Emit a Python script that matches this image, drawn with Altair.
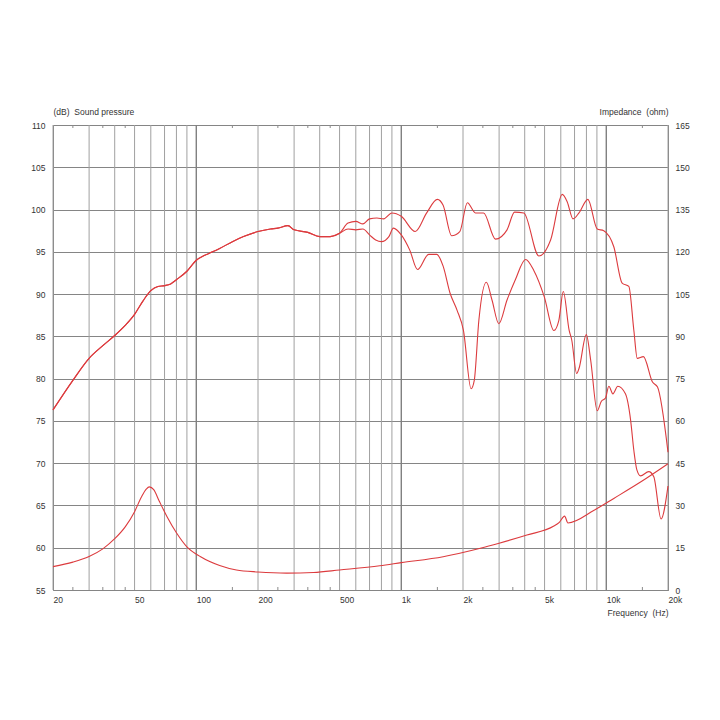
import altair as alt
import pandas as pd

# ---- data ----
# shared low-frequency part of both SPL curves (Hz, dB)
low_f = [20, 25, 30, 35, 40, 45, 50, 55, 60, 65, 70, 75, 80, 90, 100, 110, 120, 130,
         150, 170, 200, 230, 250, 280, 300, 350, 400, 450, 500]
low_db = [76.3, 79.8, 82.4, 83.9, 85.1, 86.3, 87.6, 89.2, 90.4, 90.9, 91.0, 91.2, 91.7,
          92.7, 94.0, 94.6, 95.0, 95.4, 96.2, 96.8, 97.4, 97.7, 97.8, 98.1, 97.6, 97.3,
          96.8, 96.8, 97.2]

# on-axis SPL above 500 Hz
on_f = [550, 600, 650, 700, 760, 820, 900, 1000, 1170, 1330, 1500, 1600, 1760, 1930,
        2100, 2300, 2520, 2880, 3280, 3570, 3960, 4690, 5350, 6100, 6450, 6880, 7360,
        8130, 9030, 9720, 10880, 11950, 12880, 13630, 14160, 15170, 16800, 17780, 20000]
on_db = [98.4, 98.6, 98.3, 98.9, 99.0, 98.9, 99.6, 99.2, 97.4, 99.6, 101.2, 100.5, 96.9,
         97.4, 100.8, 99.6, 99.6, 96.5, 97.6, 99.7, 99.6, 94.5, 96.4, 101.8, 100.9, 98.9,
         99.6, 101.2, 97.7, 97.5, 95.6, 91.3, 90.9, 85.7, 82.4, 82.6, 79.6, 79.0, 71.3]

# off-axis SPL above 500 Hz
off_f = [550, 600, 650, 700, 750, 800, 870, 915, 1000, 1100, 1200, 1360, 1490, 1600,
         1730, 1870, 2010, 2190, 2270, 2390, 2600, 2770, 2990, 3280, 3600, 4040, 4430,
         4980, 5550, 5870, 6170, 6590, 6780, 7170, 7360, 7990, 8390, 9030, 9450, 9910,
         10290, 10770, 11380, 12400, 13140, 13630, 14100, 14690, 16110, 17050, 18500, 20000]
off_db = [97.7, 97.6, 97.7, 97.0, 96.4, 96.2, 96.8, 97.8, 97.0, 95.2, 92.9, 94.7, 94.7,
          93.3, 90.1, 88.1, 85.7, 78.8, 79.8, 86.9, 91.4, 89.3, 86.5, 89.3, 91.7, 94.1,
          92.8, 89.7, 85.7, 86.9, 90.3, 85.7, 84.6, 80.6, 81.2, 85.2, 82.2, 76.2, 77.3,
          77.7, 79.1, 78.2, 79.1, 78.2, 75.1, 71.5, 69.2, 68.5, 69.0, 68.4, 63.4, 67.3]

# impedance (Hz, ohm)
imp_f = [20, 25, 30, 35, 40, 45, 50, 54, 57, 59, 62, 66, 72, 80, 90, 105, 130, 157, 200,
         276, 373, 500, 785, 1000, 1600, 2430, 3000, 4100, 5550, 5900, 6260, 6500, 8720,
         10880, 14690, 20000]
imp_ohm = [8.3, 9.9, 11.9, 14.6, 18.2, 22.4, 27.8, 33.0, 35.8, 36.6, 35.6, 31.5, 26.0,
           20.3, 15.3, 11.8, 8.7, 7.1, 6.4, 6.0, 6.2, 7.1, 8.6, 9.7, 11.8, 14.8, 16.6,
           19.5, 22.7, 24.0, 26.2, 23.8, 28.3, 32.5, 38.3, 44.8]

# axis / grid positions
x_label_vals = [20, 50, 100, 200, 500, 1000, 2000, 5000, 10000, 20000]
grid_f = [20, 30, 40, 50, 60, 70, 80, 90, 200, 300, 400, 500, 600, 700, 800, 900,
          2000, 3000, 4000, 5000, 6000, 7000, 8000, 9000, 20000]
decade_f = [100, 1000, 10000]
minor_f = [25, 35, 45, 150, 250, 350, 450, 1500, 2500, 3500, 4500, 15000]
db_ticks = list(range(55, 111, 5))
ohm_ticks = list(range(0, 166, 15))

RED = "#dc3b3e"
FONT = "Liberation Sans"
W, H = 615, 465

spl_df = pd.concat([
    pd.DataFrame({"f": low_f + on_f, "db": low_db + on_db, "series": "on"}),
    pd.DataFrame({"f": low_f + off_f, "db": low_db + off_db, "series": "off"}),
])
imp_df = pd.DataFrame({"f": imp_f, "ohm": imp_ohm})

x_scale = alt.Scale(type="log", domain=[20, 20000], nice=False)

x_axis = alt.Axis(
    values=x_label_vals,
    labelExpr="datum.value >= 1000 ? (datum.value / 1000) + 'k' : '' + datum.value",
    labelAlign="left", labelBaseline="top", labelPadding=5, ticks=False, grid=False,
    domain=False, labelFlush=False, labelOverlap=False,
    title="Frequency\u00a0 (Hz)", titleAlign="right", titleX=W, titleY=22,
    titleBaseline="middle", titleAnchor="end",
)
X = alt.X("f:Q", scale=x_scale, axis=x_axis)

grid = alt.Chart(pd.DataFrame({"f": grid_f})).mark_rule(
    color="#a0a0a0", strokeWidth=1
).encode(x=X)

decade = alt.Chart(pd.DataFrame({"f": decade_f})).mark_rule(
    color="#808080", strokeWidth=1.4
).encode(x=X)

minor_df = pd.DataFrame({"f": minor_f})
top_ticks = alt.Chart(minor_df).mark_rule(color="#8a8a8a").encode(
    x=X, y=alt.value(0), y2=alt.value(3))
bot_ticks = alt.Chart(minor_df).mark_rule(color="#8a8a8a").encode(
    x=X, y=alt.value(H - 3), y2=alt.value(H))

left_axis = alt.Axis(
    values=db_ticks, grid=True, gridColor="#858585", gridWidth=1, ticks=False,
    domain=False, labelPadding=8,
    title="(dB)\u00a0 Sound pressure", titleAngle=0, titleAlign="left", titleX=0,
    titleY=-14, titleBaseline="middle",
)
right_axis = alt.Axis(
    orient="right", values=ohm_ticks, grid=False, ticks=False, domain=False,
    labelPadding=7,
    title="Impedance\u00a0 (ohm)", titleAngle=0, titleAlign="right", titleX=0,
    titleY=-14, titleBaseline="middle",
)

spl = alt.Chart(spl_df).mark_line(color=RED, strokeWidth=1.1, interpolate="monotone").encode(
    x=X,
    y=alt.Y("db:Q", scale=alt.Scale(domain=[55, 110], nice=False, zero=False), axis=left_axis),
    detail="series:N",
)

imp = alt.Chart(imp_df).mark_line(color=RED, strokeWidth=1.1, interpolate="monotone").encode(
    x=X,
    y=alt.Y("ohm:Q", scale=alt.Scale(domain=[0, 165], nice=False, zero=True), axis=right_axis),
)

chart = alt.layer(grid, decade, top_ticks, bot_ticks, spl, imp).resolve_scale(
    y="independent"
).properties(
    width=W, height=H,
    autosize=alt.AutoSizeParams(type="none"),
    padding={"left": 45, "top": 117, "right": 44, "bottom": 100},
    background="white",
).configure_view(
    stroke="#7a7a7a", strokeWidth=1
).configure_axis(
    labelFont=FONT, labelFontSize=8.5, labelColor="#333333",
    titleFont=FONT, titleFontSize=8.5, titleColor="#333333", titleFontWeight="normal",
)

chart.save("out.html", embed_options={"renderer": "svg", "actions": False})
